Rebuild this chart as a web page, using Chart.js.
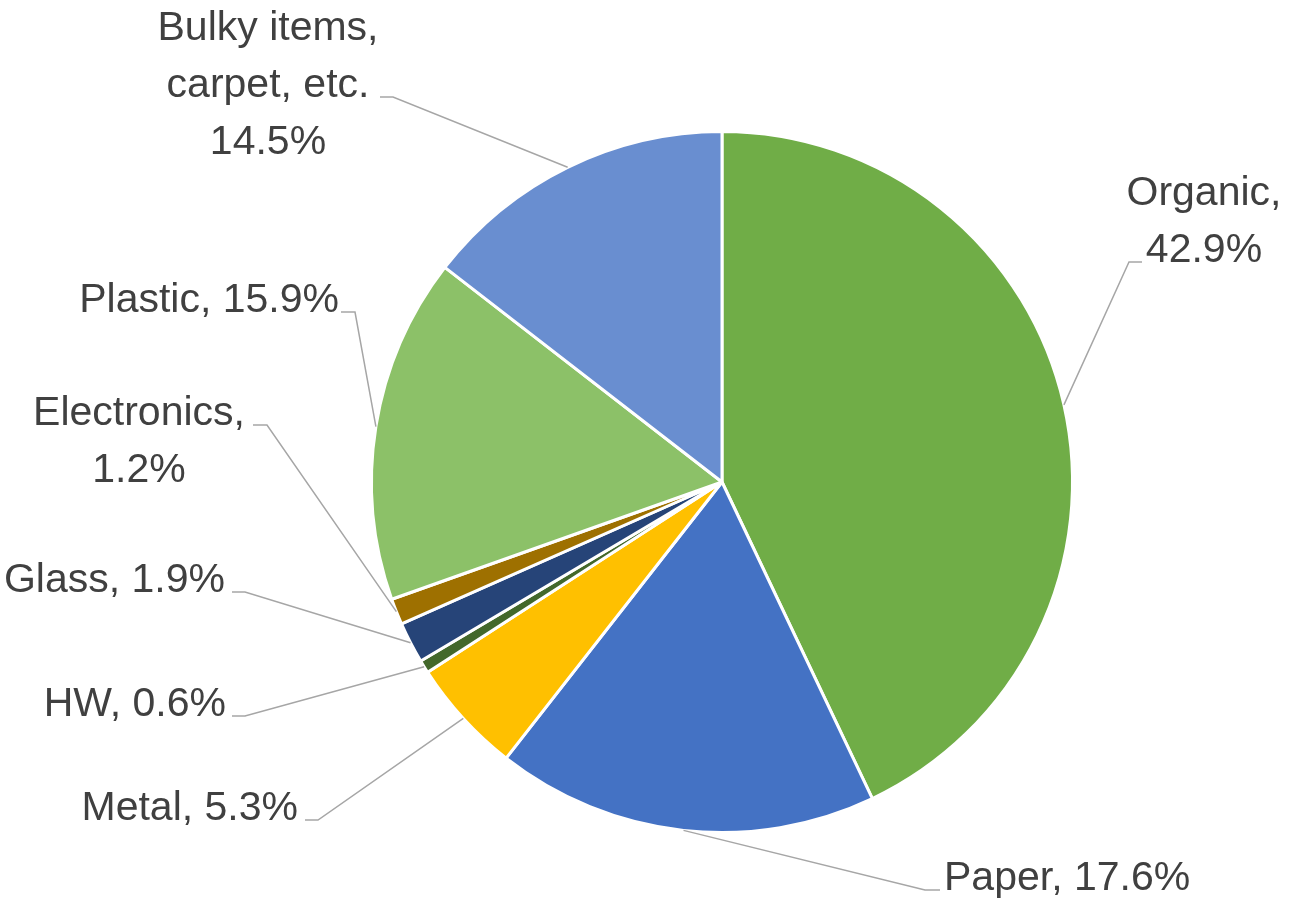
<!DOCTYPE html>
<html>
<head>
<meta charset="utf-8">
<title>Waste composition</title>
<script src="https://cdn.jsdelivr.net/npm/chart.js@4"></script>
<style>
    body { margin: 0; background: #ffffff; }
    #wrap { width: 1289px; height: 902px; }
</style>
</head>
<body>
<div id="wrap"><canvas id="wasteChart" width="1289" height="902"></canvas></div>
<script>
// Chart data
const categories = ['Organic', 'Paper', 'Metal', 'HW', 'Glass', 'Electronics', 'Plastic', 'Bulky items, carpet, etc.'];
const shares = [42.9, 17.6, 5.3, 0.6, 1.9, 1.2, 15.9, 14.5];
const sliceColors = ['#70AD47', '#4472C4', '#FFC000', '#43682B', '#264478', '#9E7000', '#8CC168', '#698ED0'];

// Label layout: text lines ({v} = value), anchor x, first baseline, align, leader end + elbow
const labelLayout = [
    { lines: ['Organic,', '{v}'], x: 1204, y: 205, align: 'center', end: [1142, 262], elbow: [1129, 262] },
    { lines: ['Paper, {v}'], x: 944, y: 890, align: 'left', end: [940, 890], elbow: [925, 890] },
    { lines: ['Metal, {v}'], x: 298, y: 820, align: 'right', end: [305, 820], elbow: [318, 820] },
    { lines: ['HW, {v}'], x: 226, y: 716, align: 'right', end: [232, 716], elbow: [245, 716] },
    { lines: ['Glass, {v}'], x: 225, y: 592, align: 'right', end: [232, 592], elbow: [245, 592] },
    { lines: ['Electronics,', '{v}'], x: 139, y: 425, align: 'center', end: [253, 425], elbow: [267, 425] },
    { lines: ['Plastic, {v}'], x: 339, y: 312, align: 'right', end: [341, 312], elbow: [355, 312] },
    { lines: ['Bulky items,', 'carpet, etc.', '{v}'], x: 268, y: 40, align: 'center', end: [380, 97], elbow: [393, 97] }
];
const lineHeight = 57;

// Labels with leader lines
const leaderLabels = {
    id: 'leaderLabels',
    afterDraw(chart) {
        const ctx = chart.ctx;
        const arcs = chart.getDatasetMeta(0).data;
        ctx.save();
        arcs.forEach((arc, i) => {
            const lay = labelLayout[i];
            const mid = (arc.startAngle + arc.endAngle) / 2;
            const px = arc.x + Math.cos(mid) * arc.outerRadius;
            const py = arc.y + Math.sin(mid) * arc.outerRadius;

            ctx.strokeStyle = '#A6A6A6';
            ctx.lineWidth = 1.5;
            ctx.beginPath();
            ctx.moveTo(px, py);
            ctx.lineTo(lay.elbow[0], lay.elbow[1]);
            ctx.lineTo(lay.end[0], lay.end[1]);
            ctx.stroke();

            ctx.fillStyle = '#404040';
            ctx.font = '41px "Liberation Sans", Arial, sans-serif';
            ctx.textAlign = lay.align;
            ctx.textBaseline = 'alphabetic';
            const value = shares[i].toFixed(1) + '%';
            lay.lines.forEach((line, j) => {
                ctx.fillText(line.replace('{v}', value), lay.x, lay.y + j * lineHeight);
            });
        });
        ctx.restore();
    }
};

new Chart(document.getElementById('wasteChart'), {
    type: 'pie',
    data: {
        labels: categories,
        datasets: [{
            data: shares,
            backgroundColor: sliceColors,
            borderColor: '#ffffff',
            borderWidth: 3
        }]
    },
    options: {
        responsive: false,
        animation: false,
        layout: {
            padding: { top: 130, bottom: 68, left: 370, right: 215 }
        },
        plugins: {
            legend: { display: false },
            tooltip: { enabled: false }
        }
    },
    plugins: [leaderLabels]
});
</script>
</body>
</html>
